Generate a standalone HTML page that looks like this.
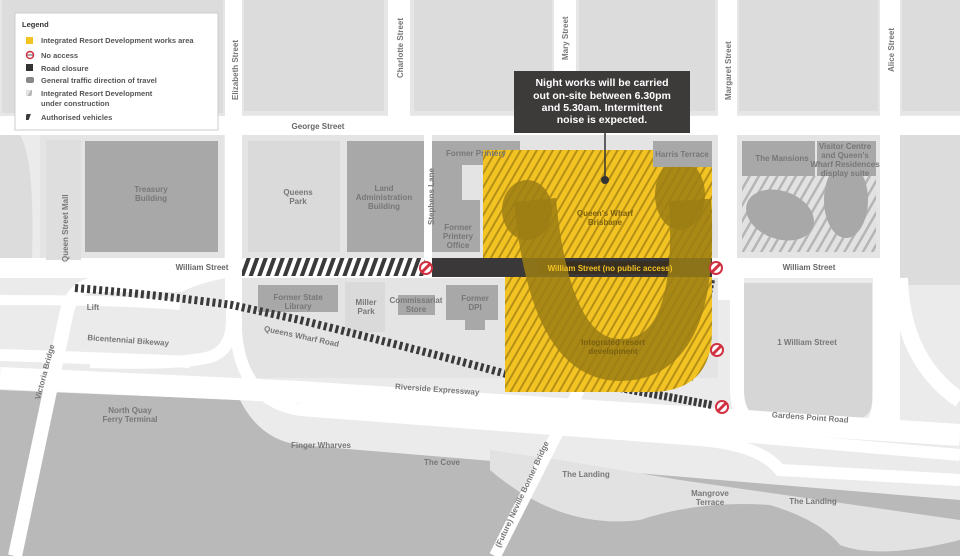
<!DOCTYPE html>
<html><head><meta charset="utf-8"><style>
html,body{margin:0;padding:0;width:960px;height:556px;overflow:hidden;background:#e9e9e9}
svg{display:block}
text{font-family:"Liberation Sans",sans-serif;font-weight:bold}
</style></head><body>
<svg width="960" height="556" viewBox="0 0 960 556">
<defs>
<pattern id="yh" width="7" height="7" patternUnits="userSpaceOnUse" patternTransform="rotate(30)">
<rect width="7" height="7" fill="#f3c324"/><rect width="2" height="7" fill="#b48f16"/></pattern>
<pattern id="gh" width="8" height="8" patternUnits="userSpaceOnUse" patternTransform="rotate(30)">
<rect width="8" height="8" fill="#e2e2e2"/><rect width="2.5" height="8" fill="#b5b5b5"/></pattern>
<pattern id="bw" width="8" height="8" patternUnits="userSpaceOnUse" patternTransform="rotate(20)">
<rect width="8" height="8" fill="#fff"/><rect width="4" height="8" fill="#3a3a3a"/></pattern>
<g id="na"><circle r="6" fill="#fff" stroke="#d03040" stroke-width="2"/><line x1="-4" y1="4" x2="4" y2="-4" stroke="#d03040" stroke-width="3"/></g>
</defs>
<rect width="960" height="556" fill="#ebebeb"/>
<g fill="#dcdcdc" stroke="#e6e6e6" stroke-width="4">
<rect x="0" y="-5" width="225" height="120"/>
<rect x="242" y="-5" width="144" height="118"/>
<rect x="412" y="-5" width="142" height="118"/>
<rect x="577" y="-5" width="140" height="118"/>
<rect x="737" y="-5" width="143" height="118"/>
<rect x="900" y="-5" width="65" height="118"/>
</g>
<g fill="#fff">
<rect x="0" y="116" width="960" height="19"/>
<rect x="225" y="0" width="17" height="300"/>
<rect x="388" y="0" width="22" height="135"/>
<rect x="554" y="0" width="22" height="135"/>
<rect x="718" y="0" width="19" height="300"/>
<rect x="880" y="0" width="20" height="420"/>
<rect x="0" y="258" width="960" height="20"/>
<rect x="424" y="135" width="8" height="125"/>
</g>
<rect x="40" y="135" width="184" height="123" fill="#e4e4e4"/>
<path d="M0 135 L20 135 Q35 160 32 258 L0 258Z" fill="#dcdcdc"/>
<g fill="#dedede"><rect x="46" y="140" width="35" height="120"/></g>
<rect x="85" y="141" width="133" height="111" fill="#a8a8a8"/>
<rect x="242" y="135" width="182" height="123" fill="#e4e4e4"/>
<rect x="248" y="141" width="92" height="111" fill="#dadada"/>
<rect x="347" y="141" width="77" height="111" fill="#a8a8a8"/>
<rect x="432" y="135" width="286" height="123" fill="#e4e4e4"/>
<path d="M432 141 H520 V165 H462 V200 H480 V252 H432Z" fill="#a8a8a8"/>
<rect x="737" y="135" width="143" height="123" fill="#e4e4e4"/>
<rect x="742" y="176" width="134" height="76" fill="url(#gh)"/>
<rect x="742" y="141" width="73" height="35" fill="#a8a8a8"/>
<rect x="817" y="141" width="59" height="35" fill="#a8a8a8"/>
<ellipse cx="780" cy="215" rx="35" ry="24" transform="rotate(20 780 215)" fill="#a8a8a8"/>
<ellipse cx="846" cy="200" rx="22" ry="38" fill="#a8a8a8"/>
<rect x="900" y="135" width="60" height="150" fill="#dcdcdc"/>
<rect x="242" y="278" width="476" height="100" fill="#e4e4e4"/>
<rect x="258" y="285" width="80" height="27" fill="#a8a8a8"/>
<rect x="345" y="282" width="40" height="50" fill="#dadada"/>
<rect x="398" y="295" width="37" height="20" fill="#a8a8a8"/>
<path d="M446 285 H498 V320 H485 V330 H465 V320 H446Z" fill="#a8a8a8"/>
<path d="M742 283 H872 V400 Q872 420 850 420 H762 Q742 420 742 400Z" fill="#d6d6d6"/>
<path d="M737 278 V390 Q737 430 780 430 H860 Q880 430 880 390 V278" fill="none" stroke="#fff" stroke-width="14"/>
<path d="M900 278 Q902 360 960 400" fill="none" stroke="#fff" stroke-width="16"/>
<path d="M0 390 L240 400 Q260 440 300 445 L960 500 V556 H0Z" fill="#b9b9b9"/>
<path d="M490 450 L560 460 Q620 470 680 480 L960 520 V540 Q880 560 840 545 Q820 520 770 505 Q700 500 640 520 Q560 530 490 470Z" fill="#e2e2e2"/>
<path d="M0 378 L300 392 L960 435" fill="none" stroke="#fff" stroke-width="22"/>
<path d="M300 398 L960 455" fill="none" stroke="#fff" stroke-width="12"/>
<path d="M0 300 Q120 300 180 305" fill="none" stroke="#fff" stroke-width="10"/>
<path d="M0 355 Q150 360 190 362" fill="none" stroke="#fff" stroke-width="12"/>
<path d="M232 280 V320 Q232 350 210 357 Q180 365 90 362" fill="none" stroke="#fff" stroke-width="12"/>
<path d="M236 290 V330 Q240 400 300 410 L700 440 Q760 445 780 470 L960 480" fill="none" stroke="#fff" stroke-width="12"/>
<path d="M232 270 Q200 275 180 285 L90 285 Q70 290 65 320 L15 556" fill="none" stroke="#fff" stroke-width="14"/>
<path d="M580 388 L495 556" fill="none" stroke="#fff" stroke-width="12"/>
<rect x="242" y="258" width="183" height="18" fill="url(#bw)"/>
<path d="M75 288 Q160 295 232 305 L300 320 Q420 350 510 375 L620 388" fill="none" stroke="#3a3a3a" stroke-width="8" stroke-dasharray="3 3"/>
<path d="M620 388 L712 405" fill="none" stroke="#3a3a3a" stroke-width="8" stroke-dasharray="3 2"/>
<path d="M712 280 L690 380" fill="none" stroke="#3a3a3a" stroke-width="6" stroke-dasharray="3 2"/>
<path d="M483 150 H712 V330 Q712 392 650 392 H505 V270 H483Z" fill="url(#yh)"/>
<rect x="432" y="258" width="280" height="19" fill="#3a3838"/>
<rect x="540" y="261" width="140" height="13" fill="#3a3020"/>
<path d="M535 200 Q550 360 620 360 Q700 360 690 200" fill="none" stroke="#9b7e14" stroke-opacity="0.85" stroke-width="42"/>
<ellipse cx="527" cy="210" rx="25" ry="30" fill="#9b7e14" fill-opacity="0.85"/>
<ellipse cx="680" cy="195" rx="25" ry="35" fill="#9b7e14" fill-opacity="0.85"/>
<rect x="653" y="141" width="59" height="26" fill="#a8a8a8"/>
<use href="#na" x="426" y="268"/><use href="#na" x="716" y="268"/><use href="#na" x="717" y="350"/><use href="#na" x="722" y="407"/>
<rect x="514" y="71" width="176" height="62" fill="#3d3a3a"/>
<line x1="605" y1="133" x2="605" y2="180" stroke="#333" stroke-width="1.5"/>
<circle cx="605" cy="180" r="4" fill="#333"/>
<g fill="#fff" font-size="10.5" text-anchor="middle" style="font-weight:normal">
<text x="602" y="86">Night works will be carried</text>
<text x="602" y="99">out on-site between 6.30pm</text>
<text x="602" y="111">and 5.30am. Intermittent</text>
<text x="602" y="123">noise is expected.</text></g>
<rect x="15" y="13" width="203" height="117" fill="#fff" stroke="#ccc"/>
<g font-size="7.5" fill="#555" style="font-weight:normal">
<text x="22" y="27" fill="#333" style="font-weight:bold">Legend</text>
<rect x="26" y="37" width="7" height="7" fill="#f3c324"/><text x="41" y="43">Integrated Resort Development works area</text>
<circle cx="30" cy="55" r="3.5" fill="#fff" stroke="#d03040" stroke-width="1.5"/><line x1="27" y1="55" x2="33" y2="55" stroke="#555" stroke-width="1"/>
<text x="41" y="58">No access</text>
<rect x="26" y="64" width="7" height="7" fill="#333"/><text x="41" y="71">Road closure</text>
<rect x="26" y="77" width="8" height="6" rx="2" fill="#888"/><text x="41" y="83">General traffic direction of travel</text>
<rect x="26" y="90" width="6" height="6" fill="url(#gh)"/><text x="41" y="96">Integrated Resort Development</text><text x="41" y="106">under construction</text>
<rect x="26" y="114" width="6" height="6" fill="url(#bw)"/><text x="41" y="120">Authorised vehicles</text>
</g>
<g font-size="8" fill="#777" text-anchor="middle">
<text x="151" y="192">Treasury</text><text x="151" y="201">Building</text>
<text x="298" y="195">Queens</text><text x="298" y="204">Park</text>
<text x="384" y="191">Land</text><text x="384" y="200">Administration</text><text x="384" y="209">Building</text>
<text x="476" y="156">Former Printery</text>
<text x="458" y="230">Former</text><text x="458" y="239">Printery</text><text x="458" y="248">Office</text>
<text x="682" y="157">Harris Terrace</text>
<text x="782" y="161">The Mansions</text>
<text x="845" y="149">Visitor Centre</text><text x="845" y="158">and Queen's</text><text x="845" y="167">Wharf Residences</text><text x="845" y="176">display suite</text>
<text x="605" y="216" fill="#7a6010">Queen's Wharf</text><text x="605" y="225" fill="#7a6010">Brisbane</text>
<text x="613" y="345" fill="#7a6010">Integrated resort</text><text x="613" y="354" fill="#7a6010">development</text>
<text x="610" y="271" fill="#f3c324">William Street (no public access)</text>
<text x="202" y="270" fill="#666">William Street</text>
<text x="809" y="270" fill="#666">William Street</text>
<text x="318" y="129" fill="#666">George Street</text>
<text x="298" y="300">Former State</text><text x="298" y="309">Library</text>
<text x="366" y="305">Miller</text><text x="366" y="314">Park</text>
<text x="416" y="303">Commissariat</text><text x="416" y="312">Store</text>
<text x="475" y="301">Former</text><text x="475" y="310">DPI</text>
<text x="807" y="345">1 William Street</text>
<text x="93" y="310">Lift</text>
<text x="128" y="343" transform="rotate(4 128 343)">Bicentennial Bikeway</text>
<text x="301" y="339" transform="rotate(12 301 339)">Queens Wharf Road</text>
<text x="437" y="392" transform="rotate(4 437 392)">Riverside Expressway</text>
<text x="810" y="420" transform="rotate(4 810 420)">Gardens Point Road</text>
<text x="130" y="413">North Quay</text><text x="130" y="422">Ferry Terminal</text>
<text x="321" y="448">Finger Wharves</text>
<text x="442" y="465">The Cove</text>
<text x="586" y="477">The Landing</text>
<text x="710" y="496">Mangrove</text><text x="710" y="505">Terrace</text>
<text x="813" y="504">The Landing</text>
</g>
<g font-size="8" fill="#777">
<text transform="translate(238 100) rotate(-90)">Elizabeth Street</text>
<text transform="translate(403 78) rotate(-90)">Charlotte Street</text>
<text transform="translate(568 60) rotate(-90)">Mary Street</text>
<text transform="translate(731 100) rotate(-90)">Margaret Street</text>
<text transform="translate(894 72) rotate(-90)">Alice Street</text>
<text transform="translate(434 225) rotate(-90)">Stephens Lane</text>
<text transform="translate(68 262) rotate(-90)">Queen Street Mall</text>
<text transform="translate(40 400) rotate(-75)">Victoria Bridge</text>
<text transform="translate(500 548) rotate(-65)">(Future) Neville Bonner Bridge</text>
</g>
</svg>
</body></html>
